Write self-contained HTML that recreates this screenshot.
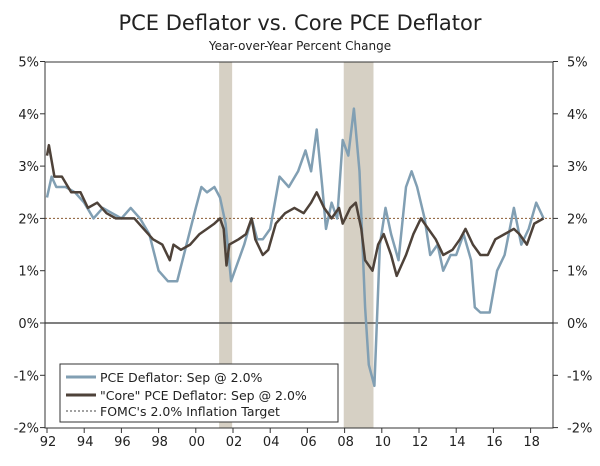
<!DOCTYPE html>
<html><head><meta charset="utf-8"><style>
body{margin:0;background:#fff}
svg text{font-family:"DejaVu Sans","Liberation Sans",sans-serif;fill:#222}
</style></head><body>
<svg id="chart" width="600" height="461">
<text x="300" y="30" text-anchor="middle" font-size="21">PCE Deflator vs. Core PCE Deflator</text>
<text x="300" y="50" text-anchor="middle" font-size="12">Year-over-Year Percent Change</text>
<g id="rec"></g><g id="grid"></g><g id="lines"></g><g id="axes"></g>
<g>
<rect x="60" y="364" width="278" height="58" fill="#fff" stroke="#333" stroke-width="1"/>
<line x1="66" y1="377" x2="96" y2="377" stroke="#819fb3" stroke-width="3"/>
<text x="100" y="382" font-size="12.5">PCE Deflator: Sep @ 2.0%</text>
<line x1="66" y1="395" x2="96" y2="395" stroke="#4e4239" stroke-width="3"/>
<text x="100" y="400" font-size="12.5">"Core" PCE Deflator: Sep @ 2.0%</text>
<line x1="66" y1="411" x2="96" y2="411" stroke="#444" stroke-width="1" stroke-dasharray="2,2"/>
<text x="100" y="416" font-size="12.5">FOMC's 2.0% Inflation Target</text>
</g>
</svg>
<script>
const yTicks=[-2,-1,0,1,2,3,4,5];
const xTickYears=[1992,1994,1996,1998,2000,2002,2004,2006,2008,2010,2012,2014,2016,2018];
const recessions=[[2001.2,2001.9],[2007.9,2009.5]];
const target=2.0;
const pceT=[1992,1992.25,1992.5,1993,1993.5,1994,1994.5,1995,1995.5,1996,1996.5,1997,1997.5,1998,1998.5,1999,1999.5,2000,2000.3,2000.6,2001,2001.3,2001.6,2001.9,2002.2,2002.6,2003,2003.3,2003.6,2004,2004.5,2005,2005.5,2005.9,2006.2,2006.5,2006.8,2007,2007.3,2007.6,2007.9,2008.2,2008.5,2008.8,2009.1,2009.3,2009.6,2009.9,2010.2,2010.5,2010.9,2011.3,2011.6,2011.9,2012.3,2012.6,2013,2013.3,2013.7,2014,2014.4,2014.8,2015,2015.3,2015.8,2016.2,2016.6,2017.1,2017.5,2017.9,2018.3,2018.7];
const pceV=[2.4,2.8,2.6,2.6,2.5,2.3,2.0,2.2,2.1,2.0,2.2,2.0,1.7,1.0,0.8,0.8,1.5,2.2,2.6,2.5,2.6,2.4,1.9,0.8,1.1,1.5,2.0,1.6,1.6,1.8,2.8,2.6,2.9,3.3,2.9,3.7,2.6,1.8,2.3,2.0,3.5,3.2,4.1,2.9,0.3,-0.8,-1.2,1.5,2.2,1.7,1.2,2.6,2.9,2.6,2.0,1.3,1.5,1.0,1.3,1.3,1.7,1.2,0.3,0.2,0.2,1.0,1.3,2.2,1.5,1.8,2.3,2.0];
const coreT=[1992,1992.1,1992.4,1992.8,1993.3,1993.8,1994.2,1994.7,1995.2,1995.7,1996.3,1996.7,1997.2,1997.7,1998.2,1998.6,1998.8,1999.2,1999.7,2000.2,2000.6,2001,2001.3,2001.5,2001.65,2001.8,2002.3,2002.7,2003.0,2003.2,2003.6,2003.9,2004.3,2004.8,2005.3,2005.8,2006.2,2006.5,2006.9,2007.3,2007.7,2007.9,2008.3,2008.6,2008.9,2009.1,2009.5,2009.8,2010.1,2010.5,2010.8,2011.3,2011.7,2012.1,2012.5,2012.9,2013.3,2013.8,2014.2,2014.5,2014.9,2015.3,2015.7,2016.1,2016.6,2017.1,2017.4,2017.8,2018.2,2018.7];
const coreV=[3.2,3.4,2.8,2.8,2.5,2.5,2.2,2.3,2.1,2.0,2.0,2.0,1.8,1.6,1.5,1.2,1.5,1.4,1.5,1.7,1.8,1.9,2.0,1.8,1.1,1.5,1.6,1.7,2.0,1.6,1.3,1.4,1.9,2.1,2.2,2.1,2.3,2.5,2.2,2.0,2.2,1.9,2.2,2.3,1.8,1.2,1.0,1.5,1.7,1.3,0.9,1.3,1.7,2.0,1.8,1.6,1.3,1.4,1.6,1.8,1.5,1.3,1.3,1.6,1.7,1.8,1.7,1.5,1.9,2.0];
const L=45,R=553,T=62,B=428;
const X=t=>47+(t-1992)*18.6;
const Y=v=>323-v*52.3;
const NS="http://www.w3.org/2000/svg";
function mk(tag,parent,attrs){const e=document.createElementNS(NS,tag);for(const k in attrs)e.setAttribute(k,attrs[k]);document.getElementById(parent).appendChild(e);return e;}
recessions.forEach(r=>{
 const e=mk('rect','rec',{x:X(r[0])+1,y:T,width:X(r[1])-X(r[0]),height:B-T,fill:'#d6d0c4'});
 
 
});
const tl=mk('line','grid',{x1:L,x2:R,y1:Y(target),y2:Y(target),stroke:'#8a5a30','stroke-width':1,'stroke-dasharray':'2,2'});


const zl=mk('line','grid',{x1:L,x2:R,y1:Y(0),y2:Y(0),stroke:'#555','stroke-width':1.5});


function path(ts,vs,col,name){
 const d=ts.map((t,i)=>(i?'L':'M')+X(t).toFixed(1)+','+Y(vs[i]).toFixed(1)).join('');
 const p=mk('path','lines',{d:d,fill:'none',stroke:col,'stroke-width':2.5,'stroke-linejoin':'round'});
 
 
}
path(pceT,pceV,'#819fb3','pce-line');
path(coreT,coreV,'#4e4239','core-pce-line');
mk('rect','axes',{x:L,y:T,width:R-L,height:B-T,fill:'none',stroke:'#333','stroke-width':1});
yTicks.forEach(v=>{
 mk('line','axes',{x1:L-5,x2:L,y1:Y(v),y2:Y(v),stroke:'#333'});
 mk('line','axes',{x1:R,x2:R+5,y1:Y(v),y2:Y(v),stroke:'#333'});
 const a=mk('text','axes',{x:L-6,y:Y(v)+5,'text-anchor':'end','font-size':13});a.textContent=v+'%';
 
 
 const b=mk('text','axes',{x:R+14,y:Y(v)+5,'font-size':13});b.textContent=v+'%';
 
 
});
xTickYears.forEach(t=>{
 mk('line','axes',{x1:X(t),x2:X(t),y1:B,y2:B+5,stroke:'#333'});
 const a=mk('text','axes',{x:X(t)+1,y:B+18,'text-anchor':'middle','font-size':13});a.textContent=String(t).slice(2);
 
 
});
</script>
</body></html>
